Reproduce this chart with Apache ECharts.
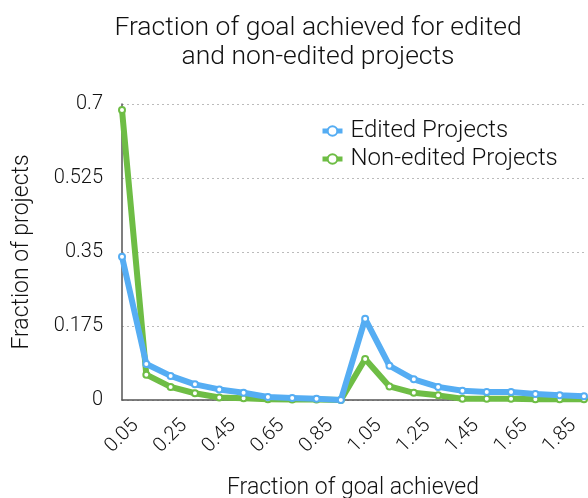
<!DOCTYPE html>
<html>
<head>
<meta charset="utf-8">
<script src="https://cdn.jsdelivr.net/npm/echarts@6/dist/echarts.min.js"></script>
<style>
  html, body { margin: 0; padding: 0; background: #fff; }
  #chart { width: 588px; height: 498px; }
</style>
</head>
<body>
<div id="chart"></div>
<script>
// Histogram bins (fraction of funding goal reached)
const categories = ['0.05', '0.15', '0.25', '0.35', '0.45', '0.55', '0.65', '0.75', '0.85', '0.95',
                    '1.05', '1.15', '1.25', '1.35', '1.45', '1.55', '1.65', '1.75', '1.85', '1.95'];

// Share of projects falling in each bin
const editedProjects = [0.339, 0.085, 0.057, 0.037, 0.025, 0.017, 0.007, 0.005, 0.003, 0.0,
                        0.192, 0.081, 0.049, 0.031, 0.022, 0.019, 0.019, 0.014, 0.011, 0.009];
const nonEditedProjects = [0.686, 0.060, 0.031, 0.016, 0.006, 0.004, 0.002, 0.001, 0.001, 0.0,
                           0.097, 0.032, 0.017, 0.011, 0.003, 0.003, 0.003, 0.002, 0.002, 0.002];

// Value axis ticks
const yTicks = [0, 0.175, 0.35, 0.525, 0.7];

const FONT = '"Roboto", "Lato", "Liberation Sans", sans-serif';
const BLUE = '#55adf3';
const GREEN = '#6ebd45';

const chart = echarts.init(document.getElementById('chart'), null, { renderer: 'canvas' });

function lineSeries(name, data, color, z) {
  return {
    name: name,
    type: 'line',
    data: data,
    z: z,
    symbol: 'emptyCircle',
    symbolSize: 6,
    showSymbol: true,
    lineStyle: { color: color, width: 6 },
    itemStyle: { color: color, borderColor: color, borderWidth: 4 },
    emphasis: { disabled: true },
    animation: false
  };
}

chart.setOption({
  animation: false,
  backgroundColor: '#ffffff',
  title: {
    text: 'Fraction of goal achieved for edited\nand non-edited projects',
    left: 313,
    top: 9,
    textAlign: 'center',
    textStyle: {
      fontFamily: FONT,
      fontWeight: 300,
      fontSize: 26.5,
      lineHeight: 29,
      color: '#111'
    }
  },
  legend: {
    data: ['Edited Projects', 'Non-edited Projects'],
    orient: 'vertical',
    left: 315,
    top: 114,
    itemWidth: 20,
    itemHeight: 12,
    itemGap: 4,
    selectedMode: false,
    lineStyle: { width: 5 },
    itemStyle: { borderWidth: 3.5 },
    textStyle: {
      fontFamily: FONT,
      fontWeight: 300,
      fontSize: 24,
      lineHeight: 24,
      color: '#111',
      padding: [0, 0, 0, 3]
    }
  },
  grid: {
    left: 122,
    right: 4,
    top: 104,
    bottom: 98,
    containLabel: false,
    outerBoundsMode: 'none'
  },
  xAxis: {
    type: 'category',
    data: categories,
    boundaryGap: false,
    name: 'Fraction of goal achieved',
    nameLocation: 'middle',
    nameGap: 77,
    nameTextStyle: {
      fontFamily: FONT,
      fontWeight: 300,
      fontSize: 23,
      color: '#111'
    },
    axisLine: { lineStyle: { color: '#555', width: 1.5 } },
    axisTick: { show: false },
    splitLine: { show: false },
    axisLabel: {
      interval: 1,
      rotate: 45,
      align: 'center',
      verticalAlign: 'middle',
      margin: 36,
      fontFamily: FONT,
      fontWeight: 300,
      fontSize: 20,
      color: '#111'
    }
  },
  yAxis: {
    type: 'value',
    min: yTicks[0],
    max: yTicks[yTicks.length - 1],
    interval: yTicks[1] - yTicks[0],
    name: 'Fraction of projects',
    nameLocation: 'middle',
    nameGap: 88,
    nameTextStyle: {
      fontFamily: FONT,
      fontWeight: 300,
      fontSize: 23,
      color: '#111'
    },
    axisLine: { show: true, lineStyle: { color: '#555', width: 1.5 } },
    axisTick: { show: false },
    splitLine: { show: true, lineStyle: { color: '#bbb', type: [2, 3], width: 1 } },
    axisLabel: {
      margin: 19,
      fontFamily: FONT,
      fontWeight: 300,
      fontSize: 20,
      color: '#111',
      formatter: function (v) {
        const hit = yTicks.find(function (t) { return Math.abs(t - v) < 1e-9; });
        return String(hit !== undefined ? hit : v);
      }
    }
  },
  series: [
    lineSeries('Non-edited Projects', nonEditedProjects, GREEN, 2),
    lineSeries('Edited Projects', editedProjects, BLUE, 3)
  ]
});
</script>
</body>
</html>
